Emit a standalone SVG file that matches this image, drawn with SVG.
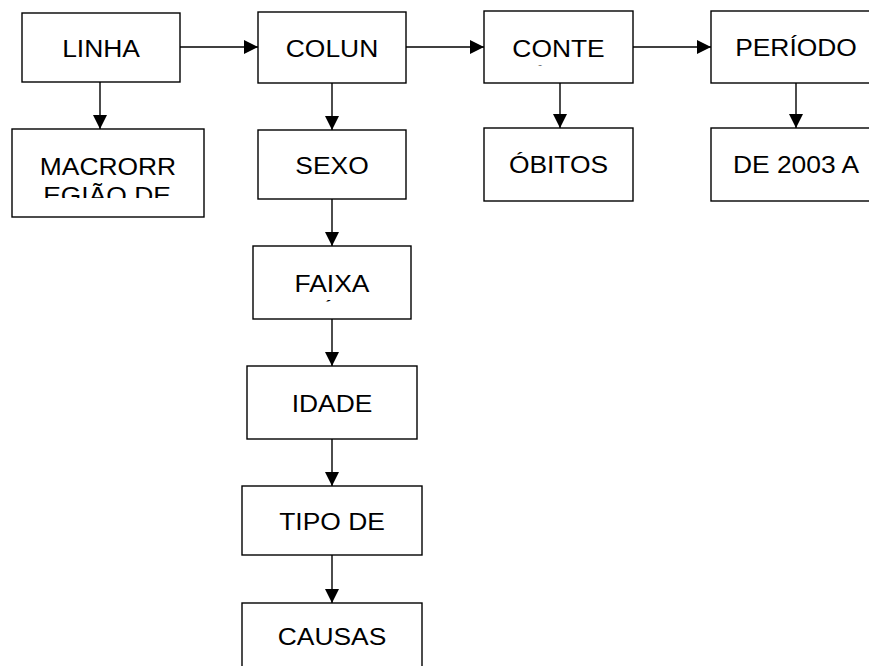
<svg xmlns="http://www.w3.org/2000/svg" width="869" height="666" viewBox="0 0 869 666">
<style>
.b{fill:#fff;stroke:#000;stroke-width:1.4}
.t{font-family:"Liberation Sans",Arial,sans-serif;font-size:24px;fill:#000;text-anchor:middle}
.c{stroke:#000;stroke-width:1.4;fill:none;marker-end:url(#ah)}
</style>
<defs>
<marker id="ah" markerUnits="userSpaceOnUse" markerWidth="14" markerHeight="14" viewBox="0 0 14 14" refX="14" refY="7" orient="auto">
<path d="M0,0 L14,7 L0,14 z" fill="#000"/>
</marker>
<clipPath id="cpM"><rect x="0" y="129" width="869" height="69"/></clipPath>
<clipPath id="cpC"><rect x="0" y="11" width="869" height="54.5"/></clipPath>
<clipPath id="cpF"><rect x="0" y="246" width="869" height="55.5"/></clipPath>
</defs>
<rect width="869" height="666" fill="#fff"/>
<g id="connectors">
<line class="c" x1="180" y1="47" x2="258" y2="47"/>
<line class="c" x1="406" y1="47" x2="484" y2="47"/>
<line class="c" x1="633" y1="47" x2="711" y2="47"/>
<line class="c" x1="100" y1="82" x2="100" y2="129"/>
<line class="c" x1="332" y1="83" x2="332" y2="130"/>
<line class="c" x1="560" y1="83" x2="560" y2="128"/>
<line class="c" x1="796" y1="83" x2="796" y2="128"/>
<line class="c" x1="332" y1="199" x2="332" y2="246"/>
<line class="c" x1="332" y1="319" x2="332" y2="366"/>
<line class="c" x1="332" y1="439" x2="332" y2="486"/>
<line class="c" x1="332" y1="555" x2="332" y2="603"/>
</g>
<g id="linha"><rect class="b" x="22" y="13" width="158" height="69"/><text class="t" transform="translate(101,57) scale(1.1,1)">LINHA</text></g>
<g id="macrorregiao"><rect class="b" x="12" y="129" width="192" height="88"/>
<g clip-path="url(#cpM)"><text class="t" transform="translate(108,174.5) scale(1.1,1)">MACRORR</text><text class="t" transform="translate(107,203.5) scale(1.1,1)">EGIÃO DE</text></g></g>
<g id="coluna"><rect class="b" x="258" y="12" width="148" height="71"/><text class="t" transform="translate(332,57) scale(1.1,1)">COLUN</text></g>
<g id="sexo"><rect class="b" x="258" y="130" width="148" height="69"/><text class="t" transform="translate(332,174) scale(1.1,1)">SEXO</text></g>
<g id="faixa"><rect class="b" x="253" y="246" width="158" height="73"/>
<g clip-path="url(#cpF)"><text class="t" transform="translate(332,291.5) scale(1.1,1)">FAIXA</text><text class="t" transform="translate(332,320.5) scale(1.1,1)">ETÁRIA</text></g></g>
<g id="idade"><rect class="b" x="247" y="366" width="170" height="73"/><text class="t" transform="translate(332,411.5) scale(1.1,1)">IDADE</text></g>
<g id="tipo"><rect class="b" x="242" y="486" width="180" height="69"/><text class="t" transform="translate(332,530) scale(1.1,1)">TIPO DE</text></g>
<g id="causas"><rect class="b" x="242" y="603" width="180" height="72"/><text class="t" transform="translate(332,645) scale(1.1,1)">CAUSAS</text></g>
<g id="conteudo"><rect class="b" x="484" y="11" width="149" height="72"/>
<g clip-path="url(#cpC)"><text class="t" transform="translate(558.5,57) scale(1.1,1)">CONTE</text><text class="t" transform="translate(558.5,86) scale(1.1,1)">ÚDO</text></g></g>
<g id="obitos"><rect class="b" x="484" y="128" width="149" height="73"/><text class="t" transform="translate(558.5,173) scale(1.1,1)">ÓBITOS</text></g>
<g id="periodo"><rect class="b" x="711" y="11" width="170" height="72"/><text class="t" transform="translate(796,56) scale(1.1,1)">PERÍODO</text></g>
<g id="de2003"><rect class="b" x="711" y="128" width="170" height="73"/><text class="t" transform="translate(796,173) scale(1.1,1)">DE 2003 A</text></g>
</svg>
